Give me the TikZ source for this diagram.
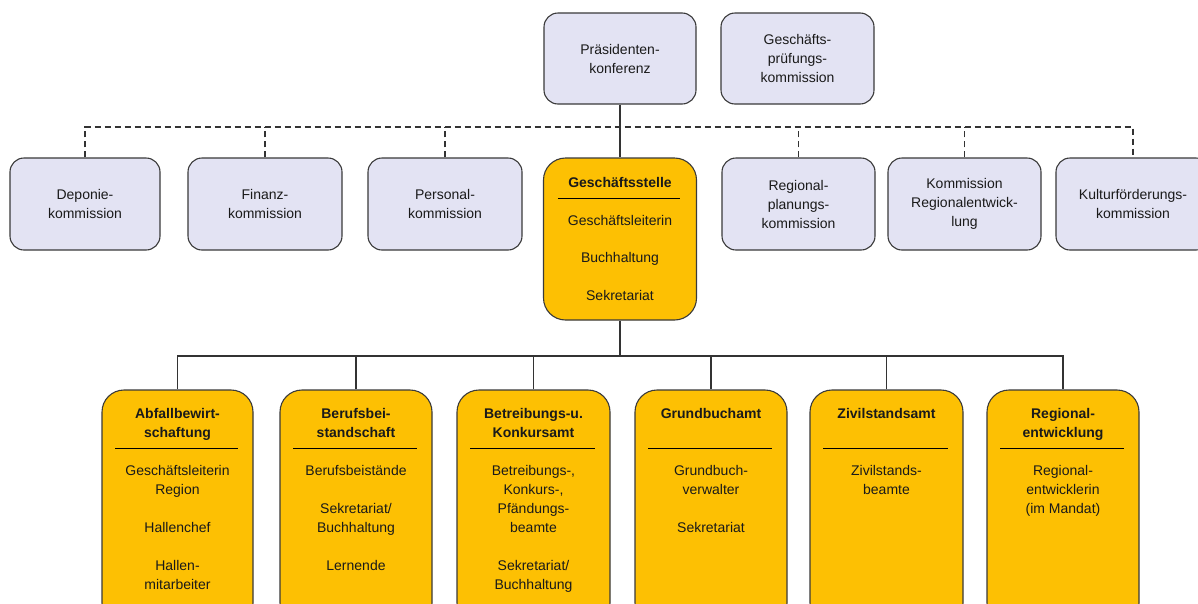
\documentclass[tikz,border=0pt]{standalone}
\usepackage{fontspec}
\setmainfont{Liberation Sans}
\usetikzlibrary{calc}
\definecolor{lavfill}{HTML}{E3E3F3}
\definecolor{orgfill}{HTML}{FDC003}
\definecolor{boxline}{HTML}{3A3A3A}
\definecolor{connline}{HTML}{333333}
\definecolor{txtcol}{HTML}{1A1A1A}
\begin{document}
\begin{tikzpicture}[x=1pt,y=-1pt,
  lav/.style={draw=boxline, fill=lavfill, rounded corners=14pt, line width=1.1pt, inner sep=0pt,
    align=center, text=txtcol, font=\fontsize{14}{19}\selectfont},
  org/.style={draw=boxline, fill=orgfill, rounded corners=22pt, line width=1.1pt, inner sep=0pt},
  txt/.style={align=center, inner sep=0pt, text=txtcol, font=\fontsize{14}{19}\selectfont},
  ttl/.style={align=center, inner sep=0pt, text=txtcol, font=\fontsize{14}{19}\selectfont\bfseries},
  rulel/.style={draw=black, line width=1.6pt},
  conn/.style={draw=connline, line width=1.4pt},
  dconn/.style={draw=connline, line width=1.3pt, dash pattern=on 6pt off 4pt}]
\useasboundingbox (0,0) rectangle (1198,603);
\fill[white] (0,0) rectangle (1198,603);

% top row
\node[lav, minimum width=152pt, minimum height=91pt] (pk) at (620,58.5) {Präsidenten-\\konferenz};
\node[lav, minimum width=153pt, minimum height=91pt] (gpk) at (797.5,58.5) {Geschäfts-\\prüfungs-\\kommission};

% commission row
\node[lav, minimum width=150pt, minimum height=92pt] (dep) at (85,204) {Deponie-\\kommission};
\node[lav, minimum width=154pt, minimum height=92pt] (fin) at (265,204) {Finanz-\\kommission};
\node[lav, minimum width=154pt, minimum height=92pt] (per) at (445,204) {Personal-\\kommission};
\node[lav, minimum width=153pt, minimum height=92pt] (reg) at (798.5,204) {Regional-\\planungs-\\kommission};
\node[lav, minimum width=153pt, minimum height=92pt] (kom) at (964.5,204) {Kommission\\Regionalentwick-\\lung};
\node[lav, minimum width=154pt, minimum height=92pt] (kul) at (1133,204) {Kulturförderungs-\\kommission};

% Geschaeftsstelle
\node[org, minimum width=153pt, minimum height=162pt] (gs) at (620,239) {};
\node[ttl, anchor=north] (gst) at ($(gs.north)+(0,19.5)$) {Geschäftsstelle};
\draw[rulel] ($(gs.north west)+(15,41)$) -- ($(gs.north east)+(-17,41)$);
\node[txt, anchor=north] (gsi) at ($(gs.north)+(0,57.5)$) {Geschäftsleiterin\\[18.5pt]Buchhaltung\\[18.5pt]Sekretariat};

% bottom row
\node[org, minimum width=151pt, minimum height=235pt] (abf) at (177.5,507.5) {};
\node[org, minimum width=152pt, minimum height=235pt] (ber) at (356,507.5) {};
\node[org, minimum width=153pt, minimum height=235pt] (bet) at (533.5,507.5) {};
\node[org, minimum width=152pt, minimum height=235pt] (gru) at (711,507.5) {};
\node[org, minimum width=153pt, minimum height=235pt] (ziv) at (886.5,507.5) {};
\node[org, minimum width=152pt, minimum height=235pt] (rge) at (1063,507.5) {};

\foreach \b in {abf,ber,bet,gru,ziv,rge}{
  \draw[rulel] ($(\b.north west)+(14,59)$) -- ($(\b.north east)+(-16,59)$);
}

\node[ttl, anchor=north] (abft) at ($(abf.north)+(0,18.5)$) {Abfallbewirt-\\schaftung};
\node[txt, anchor=north] (abfi) at ($(abf.north)+(0,75.5)$) {Geschäftsleiterin\\Region\\[19pt]Hallenchef\\[19pt]Hallen-\\mitarbeiter};

\node[ttl, anchor=north] (bert) at ($(ber.north)+(0,18.5)$) {Berufsbei-\\standschaft};
\node[txt, anchor=north] (beri) at ($(ber.north)+(0,75.5)$) {Berufsbeistände\\[19pt]Sekretariat/\\Buchhaltung\\[19pt]Lernende};

\node[ttl, anchor=north] (bett) at ($(bet.north)+(0,18.5)$) {Betreibungs-u.\\Konkursamt};
\node[txt, anchor=north] (beti) at ($(bet.north)+(0,75.5)$) {Betreibungs-,\\Konkurs-,\\Pfändungs-\\beamte\\[19pt]Sekretariat/\\Buchhaltung};

\node[ttl, anchor=north] (grut) at ($(gru.north)+(0,18.5)$) {Grundbuchamt};
\node[txt, anchor=north] (grui) at ($(gru.north)+(0,75.5)$) {Grundbuch-\\verwalter\\[19pt]Sekretariat};

\node[ttl, anchor=north] (zivt) at ($(ziv.north)+(0,18.5)$) {Zivilstandsamt};
\node[txt, anchor=north] (zivi) at ($(ziv.north)+(0,75.5)$) {Zivilstands-\\beamte};

\node[ttl, anchor=north] (rget) at ($(rge.north)+(0,18.5)$) {Regional-\\entwicklung};
\node[txt, anchor=north] (rgei) at ($(rge.north)+(0,75.5)$) {Regional-\\entwicklerin\\(im Mandat)};

% connectors
\coordinate (dl) at (620,127);
\coordinate (bus) at (620,356);
\draw[dconn] (dep.north) -- (dep.north |- dl) -- (kul.north |- dl) -- (kul.north);
\foreach \b in {fin,per,reg,kom}{
  \draw[dconn] (\b.north) -- (\b.north |- dl);
}
\draw[conn] (pk.south) -- (gs.north);
\draw[conn] (gs.south) -- (bus);
\draw[conn] (abf.north) -- (abf.north |- bus) -- (rge.north |- bus) -- (rge.north);
\foreach \b in {ber,bet,gru,ziv}{
  \draw[conn] (\b.north) -- (\b.north |- bus);
}
\end{tikzpicture}
\end{document}
